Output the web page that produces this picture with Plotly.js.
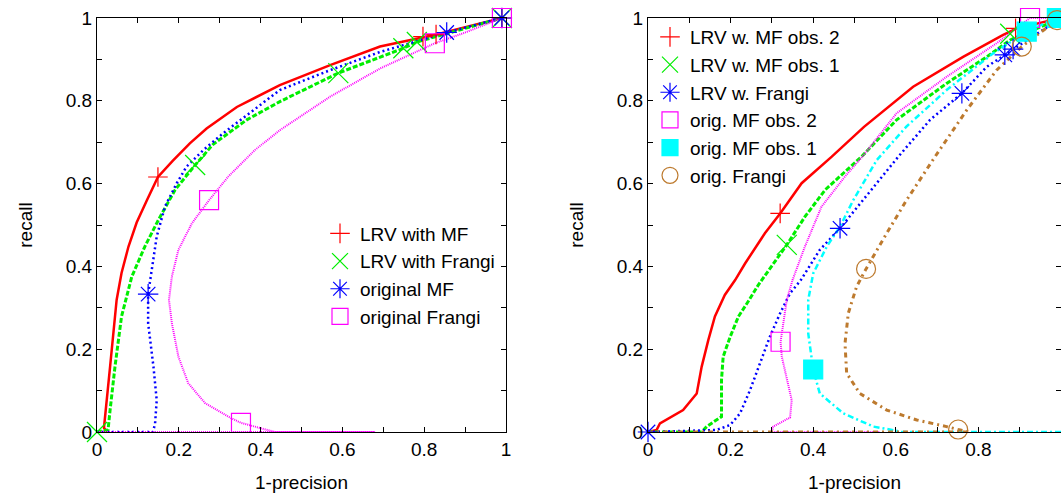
<!DOCTYPE html>
<html><head><meta charset="utf-8">
<script src="https://cdn.plot.ly/plotly-3.0.1.min.js"></script>
<style>html,body{margin:0;padding:0;background:#fff}#chart{width:1061px;height:493px}</style>
</head><body><div id="chart"></div>
<script>
// ---------- tick labels ----------
var tickVals = [0, 0.1, 0.2, 0.3, 0.4, 0.5, 0.6, 0.7, 0.8, 0.9, 1];
var tickText = ['0', '', '0.2', '', '0.4', '', '0.6', '', '0.8', '', '1'];

// ---------- left panel ----------
var leftNames = ['LRV with MF', 'LRV with Frangi', 'original MF', 'original Frangi'];

var lLrvMfX = [0, 0.025, 0.017, 0.02, 0.032, 0.048, 0.060, 0.077, 0.097, 0.122, 0.149, 0.185, 0.211, 0.227, 0.268, 0.342, 0.447, 0.570, 0.692, 0.806, 0.83, 0.99];
var lLrvMfY = [0, 0, 0.01, 0.037, 0.158, 0.319, 0.384, 0.448, 0.506, 0.560, 0.616, 0.655, 0.681, 0.697, 0.733, 0.785, 0.838, 0.886, 0.931, 0.955, 0.96, 1];
var lLrvMfMarkX = [0.149, 0.797, 0.829, 0.99];
var lLrvMfMarkY = [0.616, 0.955, 0.96, 1];

var lLrvFrX = [0, 0.027, 0.032, 0.044, 0.060, 0.085, 0.117, 0.150, 0.191, 0.240, 0.284, 0.366, 0.447, 0.59, 0.749, 0.782, 0.99];
var lLrvFrY = [0, 0.005, 0.053, 0.158, 0.279, 0.375, 0.448, 0.512, 0.585, 0.645, 0.695, 0.754, 0.798, 0.867, 0.927, 0.942, 1];
var lLrvFrMarkX = [0, 0.24, 0.59, 0.749, 0.782, 0.99];
var lLrvFrMarkY = [0, 0.645, 0.867, 0.927, 0.942, 1];

var lOrigMfX = [0, 0.137, 0.142, 0.146, 0.138, 0.125, 0.125, 0.134, 0.146, 0.166, 0.195, 0.219, 0.260, 0.309, 0.382, 0.447, 0.570, 0.692, 0.855, 0.99];
var lOrigMfY = [0, 0, 0.021, 0.077, 0.158, 0.263, 0.333, 0.391, 0.472, 0.544, 0.601, 0.641, 0.681, 0.722, 0.778, 0.826, 0.874, 0.918, 0.965, 1];
var lOrigMfMarkX = [0.125, 0.855, 0.99];
var lOrigMfMarkY = [0.333, 0.965, 1];

var lOrigFrX = [0, 0.68, 0.435, 0.386, 0.352, 0.321, 0.264, 0.223, 0.199, 0.183, 0.176, 0.183, 0.199, 0.232, 0.274, 0.321, 0.386, 0.447, 0.570, 0.692, 0.826, 0.895, 0.99];
var lOrigFrY = [0, 0, 0, 0.013, 0.022, 0.037, 0.07, 0.118, 0.182, 0.263, 0.319, 0.375, 0.440, 0.504, 0.560, 0.617, 0.681, 0.729, 0.81, 0.878, 0.939, 0.963, 1];
var lOrigFrMarkX = [0.352, 0.274, 0.826, 0.99];
var lOrigFrMarkY = [0.022, 0.56, 0.939, 1];

// ---------- right panel ----------
var rightNames = ['LRV w. MF obs. 2', 'LRV w. MF obs. 1', 'LRV w. Frangi', 'orig. MF obs. 2', 'orig. MF obs. 1', 'orig. Frangi'];

var rLrvMf2X = [0, 0.021, 0.029, 0.085, 0.118, 0.13, 0.146, 0.162, 0.186, 0.211, 0.235, 0.283, 0.320, 0.372, 0.445, 0.523, 0.642, 0.763, 0.86, 0.893, 1.0];
var rLrvMf2Y = [0, 0.005, 0.021, 0.053, 0.093, 0.158, 0.222, 0.279, 0.331, 0.367, 0.407, 0.480, 0.528, 0.601, 0.665, 0.737, 0.834, 0.906, 0.959, 0.975, 1.0];
var rLrvMf2MarkX = [0.320, 0.89];
var rLrvMf2MarkY = [0.528, 0.975];

var rLrvMf1X = [0, 0.13, 0.142, 0.178, 0.178, 0.182, 0.199, 0.219, 0.245, 0.267, 0.336, 0.380, 0.429, 0.517, 0.602, 0.723, 0.820, 0.877, 1.0];
var rLrvMf1Y = [0, 0, 0.013, 0.037, 0.126, 0.182, 0.230, 0.279, 0.319, 0.355, 0.452, 0.520, 0.585, 0.665, 0.754, 0.842, 0.906, 0.947, 1.0];
var rLrvMf1MarkX = [0.336, 0.877];
var rLrvMf1MarkY = [0.452, 0.962];

var rLrvFrX = [0, 0.166, 0.199, 0.223, 0.247, 0.271, 0.295, 0.320, 0.344, 0.370, 0.416, 0.465, 0.523, 0.606, 0.683, 0.760, 0.820, 0.864, 0.884, 1.0];
var rLrvFrY = [0, 0.005, 0.017, 0.045, 0.101, 0.166, 0.230, 0.287, 0.335, 0.367, 0.44, 0.492, 0.564, 0.665, 0.754, 0.818, 0.882, 0.911, 0.925, 1.0];
var rLrvFrMarkX = [0, 0.465, 0.760, 0.864, 0.884];
var rLrvFrMarkY = [0, 0.492, 0.818, 0.911, 0.925];

var rOrigMf2X = [0.56, 0.30, 0.303, 0.344, 0.348, 0.336, 0.324, 0.321, 0.328, 0.336, 0.350, 0.380, 0.420, 0.477, 0.519, 0.602, 0.723, 0.844, 0.925, 1.0];
var rOrigMf2Y = [0, 0, 0.013, 0.035, 0.077, 0.126, 0.182, 0.218, 0.271, 0.319, 0.367, 0.448, 0.544, 0.617, 0.665, 0.770, 0.858, 0.939, 1.0, 1.0];
var rOrigMf2MarkX = [0.321, 0.925];
var rOrigMf2MarkY = [0.218, 1.0];

var rOrigMf1X = [1.0, 0.61, 0.602, 0.546, 0.473, 0.416, 0.400, 0.388, 0.388, 0.400, 0.433, 0.465, 0.497, 0.525, 0.554, 0.626, 0.723, 0.836, 0.917, 0.99];
var rOrigMf1Y = [0, 0, 0.003, 0.013, 0.045, 0.093, 0.151, 0.238, 0.319, 0.383, 0.448, 0.496, 0.560, 0.609, 0.657, 0.738, 0.826, 0.915, 0.967, 1.0];
var rOrigMf1MarkX = [0.400, 0.917, 0.99];
var rOrigMf1MarkY = [0.151, 0.967, 1.0];

var rOrigFrX = [0, 0.78, 0.751, 0.723, 0.651, 0.578, 0.513, 0.481, 0.477, 0.485, 0.505, 0.528, 0.578, 0.626, 0.695, 0.772, 0.844, 0.905, 0.99];
var rOrigFrY = [0, 0, 0.006, 0.013, 0.029, 0.053, 0.093, 0.142, 0.214, 0.287, 0.351, 0.394, 0.480, 0.560, 0.665, 0.778, 0.874, 0.931, 0.995];
var rOrigFrMarkX = [0.751, 0.528, 0.905, 0.99];
var rOrigFrMarkY = [0.006, 0.394, 0.931, 0.995];

// ---------- styles ----------
var FONT = '"Liberation Sans", Arial, Helvetica, sans-serif';
var RED = '#ff0000', GREEN = '#00ee00', BLUE = '#0000ff', MAG = '#ff00ff', CYAN = '#00ffff', BROWN = '#bd7a2e';

function lineTrace(x, y, color, dash, width, xa, ya) {
  return {x: x, y: y, type: 'scatter', mode: 'lines', xaxis: xa, yaxis: ya,
    line: {color: color, dash: dash, width: width}, showlegend: false,
    hoverinfo: 'skip', cliponaxis: false};
}
function markTrace(x, y, name, color, symbol, size, xa, ya, legend) {
  return {x: x, y: y, type: 'scatter', mode: 'markers', name: name, xaxis: xa, yaxis: ya,
    legend: legend, cliponaxis: false,
    marker: {symbol: symbol, size: size, color: color, line: {color: color, width: 1.2}}};
}

var data = [
  lineTrace(lLrvMfX, lLrvMfY, RED, 'solid', 2.5, 'x', 'y'),
  lineTrace(lLrvFrX, lLrvFrY, GREEN, '5px,2px', 3, 'x', 'y'),
  lineTrace(lOrigMfX, lOrigMfY, BLUE, '2px,3px', 2.5, 'x', 'y'),
  lineTrace(lOrigFrX, lOrigFrY, MAG, '1px,1px', 2, 'x', 'y'),
  lineTrace(rLrvMf2X, rLrvMf2Y, RED, 'solid', 2.5, 'x2', 'y2'),
  lineTrace(rLrvMf1X, rLrvMf1Y, GREEN, '5px,2px', 3, 'x2', 'y2'),
  lineTrace(rLrvFrX, rLrvFrY, BLUE, '2px,3px', 2.5, 'x2', 'y2'),
  lineTrace(rOrigMf2X, rOrigMf2Y, MAG, '1px,1px', 2, 'x2', 'y2'),
  lineTrace(rOrigMf1X, rOrigMf1Y, CYAN, '6px,3px,2px,3px', 2.5, 'x2', 'y2'),
  lineTrace(rOrigFrX, rOrigFrY, BROWN, '5px,4px,2px,4px', 3, 'x2', 'y2'),

  markTrace(lLrvMfMarkX, lLrvMfMarkY, leftNames[0], RED, 'cross-thin-open', 14, 'x', 'y', 'legend'),
  markTrace(lLrvFrMarkX, lLrvFrMarkY, leftNames[1], GREEN, 'x-thin-open', 20, 'x', 'y', 'legend'),
  markTrace(lOrigMfMarkX, lOrigMfMarkY, leftNames[2], BLUE, 'asterisk-open', 17, 'x', 'y', 'legend'),
  markTrace(lOrigFrMarkX, lOrigFrMarkY, leftNames[3], MAG, 'square-open', 19, 'x', 'y', 'legend'),

  markTrace(rLrvMf2MarkX, rLrvMf2MarkY, rightNames[0], RED, 'cross-thin-open', 14, 'x2', 'y2', 'legend2'),
  markTrace(rLrvMf1MarkX, rLrvMf1MarkY, rightNames[1], GREEN, 'x-thin-open', 20, 'x2', 'y2', 'legend2'),
  markTrace(rLrvFrMarkX, rLrvFrMarkY, rightNames[2], BLUE, 'asterisk-open', 17, 'x2', 'y2', 'legend2'),
  markTrace(rOrigMf2MarkX, rOrigMf2MarkY, rightNames[3], MAG, 'square-open', 19, 'x2', 'y2', 'legend2'),
  markTrace(rOrigMf1MarkX, rOrigMf1MarkY, rightNames[4], CYAN, 'square', 19, 'x2', 'y2', 'legend2'),
  markTrace(rOrigFrMarkX, rOrigFrMarkY, rightNames[5], BROWN, 'circle-open', 19, 'x2', 'y2', 'legend2')
];

function axis(domain, anchor, title, isY) {
  var a = {domain: domain, anchor: anchor, range: [0, 1], autorange: false,
    tickmode: 'array', tickvals: tickVals, ticktext: tickText,
    ticks: 'inside', ticklen: 5, tickwidth: 1, tickcolor: '#000',
    showline: true, linecolor: '#000', linewidth: 1, mirror: 'ticks',
    showgrid: false, zeroline: false, fixedrange: true,
    tickfont: {family: FONT, size: 19, color: '#000'},
    title: {text: title, font: {family: FONT, size: 19, color: '#000'}}};
  if (isY) { a.automargin = true; a.title.standoff = 28; }
  return a;
}

var W = 1061, H = 493, ML = 97, MR = 0, MT = 18, MB = 61;
var PW = W - ML - MR;
var xL = axis([0, (506 - ML) / PW], 'y', '1-precision', false);
var yL = axis([0, 1], 'x', 'recall', true);
var xR = axis([(648 - ML) / PW, 1], 'y2', '1-precision', false);
var yR = axis([0, 1], 'x2', 'recall', true);

var layout = {
  width: W, height: H,
  margin: {l: ML, r: MR, t: MT, b: MB, pad: 0, autoexpand: false},
  paper_bgcolor: '#fff', plot_bgcolor: '#fff',
  font: {family: FONT, size: 19, color: '#000'},
  xaxis: xL, yaxis: yL, xaxis2: xR, yaxis2: yR,
  legend: {x: (500 - ML) / PW, xanchor: 'right', y: (432 - 275) / 414, yanchor: 'middle',
    bgcolor: 'rgba(0,0,0,0)', borderwidth: 0, font: {family: FONT, size: 19, color: '#000'},
    traceorder: 'normal', itemsizing: 'trace', tracegroupgap: 0},
  legend2: {x: (650 - ML) / PW, xanchor: 'left', y: 1.0, yanchor: 'top',
    bgcolor: 'rgba(0,0,0,0)', borderwidth: 0, font: {family: FONT, size: 19, color: '#000'},
    traceorder: 'normal', itemsizing: 'trace', tracegroupgap: 0},
  showlegend: true
};

Plotly.newPlot('chart', data, layout, {staticPlot: true, displayModeBar: false});
</script></body></html>
